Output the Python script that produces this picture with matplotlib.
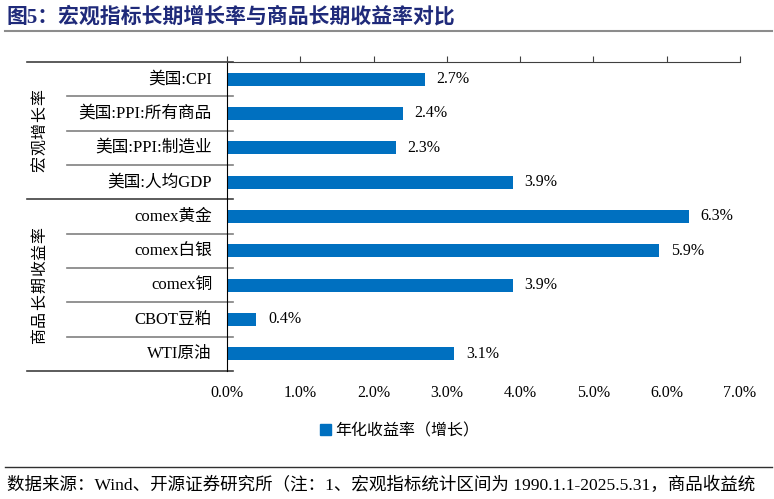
import matplotlib.pyplot as plt
import matplotlib.transforms as mtransforms
from matplotlib.patches import Patch
from matplotlib.ticker import FuncFormatter

categories = ['美国:CPI', '美国:PPI:所有商品', '美国:PPI:制造业', '美国:人均GDP',
              'comex黄金', 'comex白银', 'comex铜', 'CBOT豆粕', 'WTI原油']
values = [2.7, 2.4, 2.3, 3.9, 6.3, 5.9, 3.9, 0.4, 3.1]
groups = ['宏观增长率', '商品长期收益率']
group_sizes = [4, 5]
x_ticks = [0, 1, 2, 3, 4, 5, 6, 7]
legend_label = '年化收益率（增长）'
title = '图5：宏观指标长期增长率与商品长期收益率对比'
footer = '数据来源：Wind、开源证券研究所（注：1、宏观指标统计区间为 1990.1.1-2025.5.31，商品收益统'

fonts = ['Liberation Serif', 'Noto Sans CJK SC']
plt.rcParams['font.family'] = fonts
bar_color = '#0070C0'

W, H = 774, 499
fig = plt.figure(figsize=(W / 100, H / 100), dpi=100)
ax = fig.add_axes([227 / W, 1 - 371 / H, (740 - 227) / W, (371 - 62) / H])

ypos = list(range(len(categories)))
ax.barh(ypos, values, height=0.38, color=bar_color)
for y, v in zip(ypos, values):
    ax.text(v + 0.16, y, f'{v}%', va='center', ha='left', fontsize=11.5)

ax.set_ylim(len(categories) - 0.5, -0.5)
ax.set_xlim(0, 7)
ax.set_xticks(x_ticks)
ax.xaxis.set_major_formatter(FuncFormatter(lambda x, p: f'{x:.1f}%'))
ax.tick_params(axis='x', bottom=False, top=True, labelbottom=True, labeltop=False,
               direction='out', length=4, labelsize=11.5, pad=6, color='#404040')
ax.set_yticks([])
for s in ['right', 'bottom']:
    ax.spines[s].set_visible(False)
ax.spines['left'].set_color('black')
ax.spines['top'].set_color('#404040')

# category table on the left
tr = mtransforms.blended_transform_factory(fig.transFigure, ax.transData)
for y, c in zip(ypos, categories):
    ax.text(212 / W, y, c, transform=tr, ha='right', va='center', fontsize=12)

n = len(categories)
group_edges = [0]
for g in group_sizes:
    group_edges.append(group_edges[-1] + g)
for b in range(n + 1):
    if b in group_edges:
        x0, col = 27 / W, '#404040'
    else:
        x0, col = 67 / W, '#808080'
    ax.plot([x0, 233 / W], [b - 0.5, b - 0.5], transform=tr, color=col, lw=1.2,
            clip_on=False)

# vertical group labels, one char at a time
for g, start, size in zip(groups, group_edges[:-1], group_sizes):
    mid = start + size / 2 - 0.5
    step = 0.49
    k = len(g)
    for i, ch in enumerate(g):
        yy = mid + (k - 1) / 2 * step - i * step
        ax.text(40 / W, yy, ch, transform=tr, rotation=90, ha='center', va='center',
                fontsize=11.5)

# legend
fig.legend(handles=[Patch(color=bar_color, label=legend_label)], loc='center',
           bbox_to_anchor=(400 / W, 1 - 431 / H), frameon=False, fontsize=11.5,
           handlelength=0.65, handleheight=0.65, handletextpad=0.3)

# title and footer
fig.text(7 / W, 1 - 17 / H, title, ha='left', va='center', fontsize=15,
         fontweight='bold', color='#1F2A7A')
fig.add_artist(plt.Line2D([5 / W, 772 / W], [1 - 31 / H, 1 - 31 / H], color='#8c8c8c', lw=1.5))
fig.add_artist(plt.Line2D([5 / W, 772 / W], [1 - 467 / H, 1 - 467 / H], color='#303030', lw=1.0))
fig.text(7 / W, 1 - 485 / H, footer, ha='left', va='center', fontsize=12.6)

fig.savefig('out.png', dpi=100)
